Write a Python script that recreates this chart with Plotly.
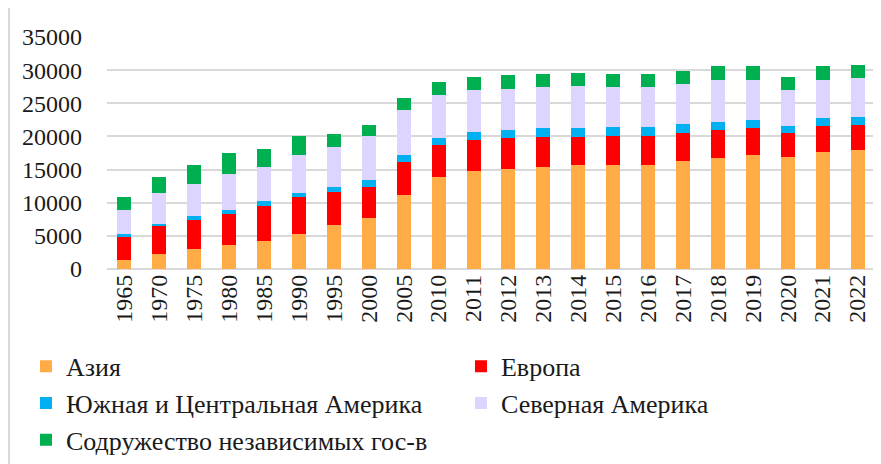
import plotly.graph_objects as go

years = ["1965", "1970", "1975", "1980", "1985", "1990", "1995", "2000", "2005",
         "2010", "2011", "2012", "2013", "2014", "2015", "2016", "2017", "2018",
         "2019", "2020", "2021", "2022"]

asia = [1400, 2200, 2950, 3550, 4200, 5300, 6650, 7650, 11150, 13900, 14800, 15150,
        15400, 15650, 15750, 15750, 16250, 16750, 17150, 16900, 17650, 17900]
europe = [3450, 4250, 4500, 4800, 5350, 5500, 4900, 4750, 5050, 4750, 4600, 4600,
          4450, 4200, 4250, 4250, 4250, 4250, 4100, 3600, 3850, 3850]
south_central_america = [400, 400, 550, 600, 650, 650, 750, 1000, 950, 1100, 1250, 1250,
                         1400, 1400, 1400, 1400, 1400, 1250, 1250, 1100, 1250, 1250]
north_america = [3700, 4650, 4750, 5350, 5200, 5700, 6100, 6600, 6850, 6450, 6350, 6100,
                 6250, 6350, 6100, 6100, 6000, 6200, 5950, 5400, 5700, 5850]
cis = [1850, 2450, 2900, 3200, 2750, 2850, 2000, 1750, 1850, 2000, 2000, 2150,
       1950, 2000, 1950, 1950, 1950, 2150, 2150, 1950, 2150, 1950]

y_ticks = [0, 5000, 10000, 15000, 20000, 25000, 30000, 35000]

series = [
    ("Азия", asia, "#FFAC47"),
    ("Европа", europe, "#FF0000"),
    ("Южная и Центральная Америка", south_central_america, "#00B0F0"),
    ("Северная Америка", north_america, "#DDD5FF"),
    ("Содружество независимых гос-в", cis, "#00B050"),
]

FONT = "Liberation Serif, Times New Roman, serif"

fig = go.Figure()
for name, vals, color in series:
    fig.add_trace(go.Bar(x=years, y=vals, name=name,
                         marker=dict(color=color, line=dict(width=0))))

fig.update_layout(
    barmode="stack",
    bargap=0.6,
    width=881, height=464,
    margin=dict(l=99, r=14, t=29, b=203, autoexpand=False),
    paper_bgcolor="white", plot_bgcolor="white",
    font=dict(family=FONT, size=24, color="#1a1a1a"),
    showlegend=True,
    legend=dict(
        orientation="h",
        x=-0.1055, y=-0.318, xanchor="left", yanchor="top",
        font=dict(family=FONT, size=26, color="#1a1a1a"),
        entrywidth=390, entrywidthmode="pixels",
        itemwidth=30,
        traceorder="normal",
        bgcolor="rgba(0,0,0,0)",
    ),
    shapes=[dict(type="line", xref="paper", yref="paper",
                 x0=-0.1276, x1=-0.1276, y0=-1.0, y1=1.2,
                 line=dict(color="#D9D9D9", width=2))],
)

fig.update_xaxes(
    type="category",
    tickangle=-90,
    tickfont=dict(family=FONT, size=24, color="#1a1a1a"),
    showgrid=False,
    showline=False,
    ticks="",
)
fig.update_yaxes(
    range=[0, 35000],
    tickvals=y_ticks,
    ticktext=[str(v) for v in y_ticks],
    tickfont=dict(family=FONT, size=24, color="#1a1a1a"),
    showgrid=True, gridcolor="#D9D9D9", gridwidth=1.5,
    zeroline=True, zerolinecolor="#D9D9D9", zerolinewidth=1.5,
    ticks="", ticklabelstandoff=24,
)

fig.write_html("out.html")
